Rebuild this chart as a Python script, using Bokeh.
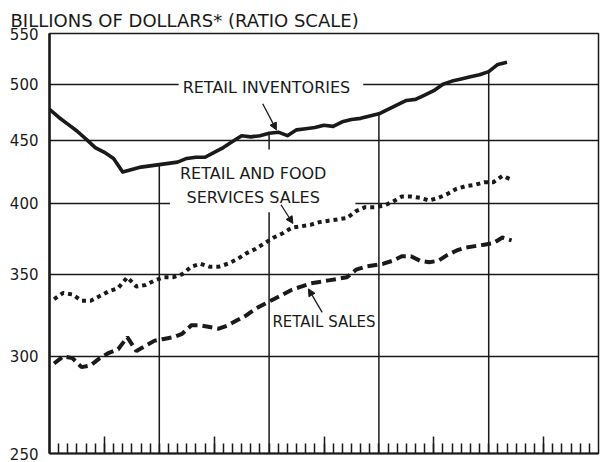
from bokeh.plotting import figure
from bokeh.models import (Range1d, FixedTicker, CustomJSTickFormatter, PrintfTickFormatter,
                          Label, Arrow, NormalHead)
from bokeh.embed import file_html
from bokeh.resources import INLINE

# ---- data (billions of dollars, monthly) ----
months_inv = list(range(51))
inventories = [477, 470, 464, 458, 451, 444, 440, 435, 424, 426,
               428, 429, 430, 431, 432, 435, 436, 436, 440, 444,
               449, 454, 453, 454, 456, 457, 454, 459, 460, 461,
               463, 462, 466, 468, 469, 471, 473, 477, 481, 485,
               486, 490, 494, 500, 503, 505, 507, 509, 512, 519, 521]

months_sales = [m + 0.5 for m in range(51)]
food_services_sales = [334, 338, 337, 333, 333, 336, 339, 341, 348, 342,
                       343, 346, 348, 348, 350, 355, 357, 355, 355, 357,
                       360, 364, 367, 371, 375, 378, 382, 383, 384, 386,
                       387, 388, 389, 394, 397, 397, 398, 401, 405, 405,
                       404, 402, 404, 407, 411, 413, 414, 416, 416, 421, 418]
retail_sales = [296, 300, 299, 294, 295, 299, 302, 304, 311, 303,
                306, 309, 310, 311, 313, 318, 318, 317, 316, 318,
                321, 324, 328, 331, 334, 337, 340, 342, 344, 345,
                346, 347, 348, 353, 355, 356, 357, 359, 362, 362,
                359, 358, 359, 363, 366, 368, 369, 370, 371, 375, 373]

y_ticks = [250, 300, 350, 400, 450, 500, 550]
year_starts = [12, 24, 36, 48]
mid_years = [6, 18, 30, 42, 54]

FONT = "DejaVu Sans"
INK = "#1a1a1a"

p = figure(width=600, height=462, y_axis_type="log",
           x_range=Range1d(0, 60), y_range=Range1d(250, 550),
           output_backend="svg", toolbar_location=None,
           min_border_left=49, min_border_right=2,
           min_border_top=33, min_border_bottom=9)

p.title.text = "BILLIONS OF DOLLARS* (RATIO SCALE)"
p.title.align = "left"
p.title.offset = -39
p.title.standoff = 6
p.title.text_font = FONT
p.title.text_font_size = "18px"
p.title.text_font_style = "normal"
p.title.text_color = INK

p.background_fill_color = "white"
p.border_fill_color = "white"
p.outline_line_color = INK
p.outline_line_width = 1.5

p.xgrid.grid_line_color = None
p.ygrid.grid_line_color = INK
p.ygrid.grid_line_width = 1.3

# y axis
p.yaxis.ticker = FixedTicker(ticks=y_ticks, minor_ticks=[])
p.yaxis.formatter = PrintfTickFormatter(format="%d")
p.yaxis.major_tick_in = 0
p.yaxis.major_tick_out = 0
p.yaxis.minor_tick_in = 0
p.yaxis.minor_tick_out = 0
p.yaxis.major_label_standoff = 11
p.yaxis.major_label_text_font = FONT
p.yaxis.major_label_text_font_size = "15px"
p.yaxis.major_label_text_color = INK
p.yaxis.axis_line_width = 2.5
p.yaxis.axis_line_color = INK

# x axis (monthly ticks, taller mid-year ticks)
p.xaxis.ticker = FixedTicker(ticks=mid_years, minor_ticks=[m for m in range(1, 60)])
p.xaxis.formatter = CustomJSTickFormatter(code="return ''")
p.xaxis.major_tick_in = 17
p.xaxis.major_tick_out = 0
p.xaxis.minor_tick_in = 10
p.xaxis.minor_tick_out = 0
p.xaxis.major_tick_line_width = 1.5
p.xaxis.minor_tick_line_width = 1.5
p.xaxis.major_tick_line_color = INK
p.xaxis.minor_tick_line_color = INK
p.xaxis.major_label_standoff = 0
p.xaxis.axis_line_width = 2
p.xaxis.axis_line_color = INK

# year grid lines rising up to the inventories line
p.segment(x0=year_starts, y0=[p.y_range.start] * len(year_starts),
          x1=year_starts, y1=[inventories[months_inv.index(m)] for m in year_starts],
          line_color=INK, line_width=1.5, level="underlay")

# label boxes (white backgrounds break the grid lines)
lbl_inv = Label(x=24.2, y=491.7, text="RETAIL INVENTORIES",
                text_align="center", text_baseline="middle",
                text_font=FONT, text_font_size="16px", text_color=INK,
                background_fill_color="white", padding=(4, 13, 3, 14),
                level="underlay")
lbl_food = Label(x=23.3, y=417.0, text="RETAIL AND FOOD\nSERVICES SALES",
                 text_align="center", text_baseline="middle",
                 text_font=FONT, text_font_size="16px", text_color=INK,
                 text_line_height=1.3,
                 background_fill_color="white", padding=(10, 29, 14, 5),
                 level="underlay")
lbl_retail = Label(x=30.0, y=319.8, text="RETAIL SALES",
                   text_align="center", text_baseline="middle",
                   text_font=FONT, text_font_size="15px", text_color=INK)
for l in (lbl_inv, lbl_food, lbl_retail):
    p.add_layout(l)

# series
p.line(months_inv, inventories, line_color=INK, line_width=3.6, line_join="round")
p.line(months_sales, food_services_sales, line_color=INK, line_width=4,
       line_dash="4 4")
p.line(months_sales, retail_sales, line_color=INK, line_width=4,
       line_dash="10 5")

# arrows
for (xs, ys, xe, ye) in [(23.3, 482, 24.8, 459),
                         (25.3, 398.8, 26.6, 385),
                         (29.8, 325.8, 28.3, 340.5)]:
    p.add_layout(Arrow(end=NormalHead(size=7, fill_color=INK, line_color=INK),
                       x_start=xs, y_start=ys, x_end=xe, y_end=ye,
                       line_color=INK, line_width=1.3))

open("out.html", "w").write(file_html(p, INLINE))
